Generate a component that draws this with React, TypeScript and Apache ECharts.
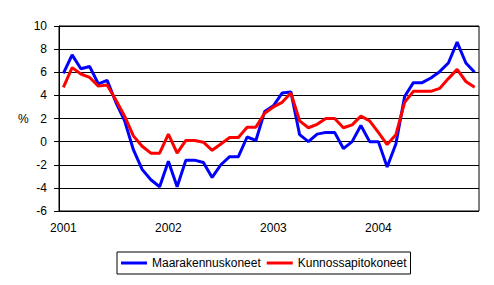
import React, { useEffect, useRef } from "react";
import * as echarts from "echarts";

const years = ["2001", "2002", "2003", "2004"];
const months = ["01", "02", "03", "04", "05", "06", "07", "08", "09", "10", "11", "12"];
const categories: string[] = years.flatMap((y) => months.map((m) => `${y}-${m}`));

const seriesNames = ["Maarakennuskoneet", "Kunnossapitokoneet"];

const maarakennuskoneet = [
  5.9, 7.5, 6.3, 6.5, 5.0, 5.3, 3.4, 1.8, -0.7, -2.4, -3.3, -3.9,
  -1.7, -3.9, -1.6, -1.6, -1.8, -3.1, -2.0, -1.3, -1.3, 0.4, 0.1, 2.6,
  3.1, 4.2, 4.3, 0.6, 0.0, 0.65, 0.8, 0.8, -0.6, 0.0, 1.4, 0.0,
  0.0, -2.2, -0.2, 3.9, 5.1, 5.1, 5.5, 6.05, 6.8, 8.6, 6.8, 6.0,
];

const kunnossapitokoneet = [
  4.7, 6.4, 5.85, 5.55, 4.8, 4.9, 3.6, 2.2, 0.5, -0.4, -1.0, -1.0,
  0.65, -1.0, 0.1, 0.1, -0.05, -0.75, -0.2, 0.35, 0.35, 1.25, 1.25, 2.45,
  3.0, 3.4, 4.2, 1.8, 1.2, 1.5, 2.0, 2.0, 1.2, 1.45, 2.2, 1.8,
  0.8, -0.25, 0.6, 3.4, 4.35, 4.35, 4.35, 4.6, 5.45, 6.25, 5.2, 4.7,
];

const font = 'Arial, "Liberation Sans", sans-serif';

export default function App() {
  const ref = useRef<HTMLDivElement>(null);
  useEffect(() => {
    document.body.style.margin = "0";
    if (!ref.current) return;
    const chart = echarts.init(ref.current, undefined, { renderer: "svg" });
    chart.setOption({
      animation: false,
      backgroundColor: "#fff",
      textStyle: { fontFamily: font },
      grid: {
        left: 59,
        right: 15,
        top: 26,
        bottom: 74,
        show: true,
        borderColor: "#000",
        borderWidth: 1,
        backgroundColor: "transparent",
      },
      xAxis: {
        type: "category",
        data: categories,
        boundaryGap: true,
        axisLine: { lineStyle: { color: "#000", width: 1 } },
        axisTick: { interval: 0, length: 4, lineStyle: { color: "#000" } },
        axisLabel: {
          interval: 11,
          margin: 11,
          color: "#000",
          fontSize: 12,
          fontFamily: font,
          formatter: (v: string) => v.slice(0, 4),
        },
        splitLine: { show: false },
      },
      yAxis: {
        type: "value",
        min: -6,
        max: 10,
        interval: 2,
        axisLine: { show: true, lineStyle: { color: "#000", width: 1 } },
        axisTick: { show: true, length: 5, lineStyle: { color: "#000" } },
        axisLabel: { margin: 12, color: "#000", fontSize: 12, fontFamily: font },
        splitLine: { lineStyle: { color: "#000", width: 1 } },
      },
      legend: {
        left: 117,
        top: 252,
        padding: [5, 4, 5, 4],
        itemGap: 6,
        itemWidth: 26,
        itemHeight: 3,
        icon: "rect",
        borderColor: "#000",
        borderWidth: 1,
        textStyle: { color: "#000", fontSize: 12, fontFamily: font },
        data: seriesNames,
      },
      graphic: [
        {
          type: "text",
          left: 18,
          top: 113,
          style: { text: "%", fontSize: 12, fontFamily: font, fill: "#000" },
        },
      ],
      series: [
        {
          name: seriesNames[0],
          type: "line",
          data: maarakennuskoneet,
          symbol: "none",
          lineStyle: { color: "#0000ff", width: 3 },
          itemStyle: { color: "#0000ff" },
        },
        {
          name: seriesNames[1],
          type: "line",
          data: kunnossapitokoneet,
          symbol: "none",
          lineStyle: { color: "#ff0000", width: 3 },
          itemStyle: { color: "#ff0000" },
        },
      ],
    });
    return () => chart.dispose();
  }, []);
  return <div ref={ref} style={{ width: 494, height: 285 }} />;
}
